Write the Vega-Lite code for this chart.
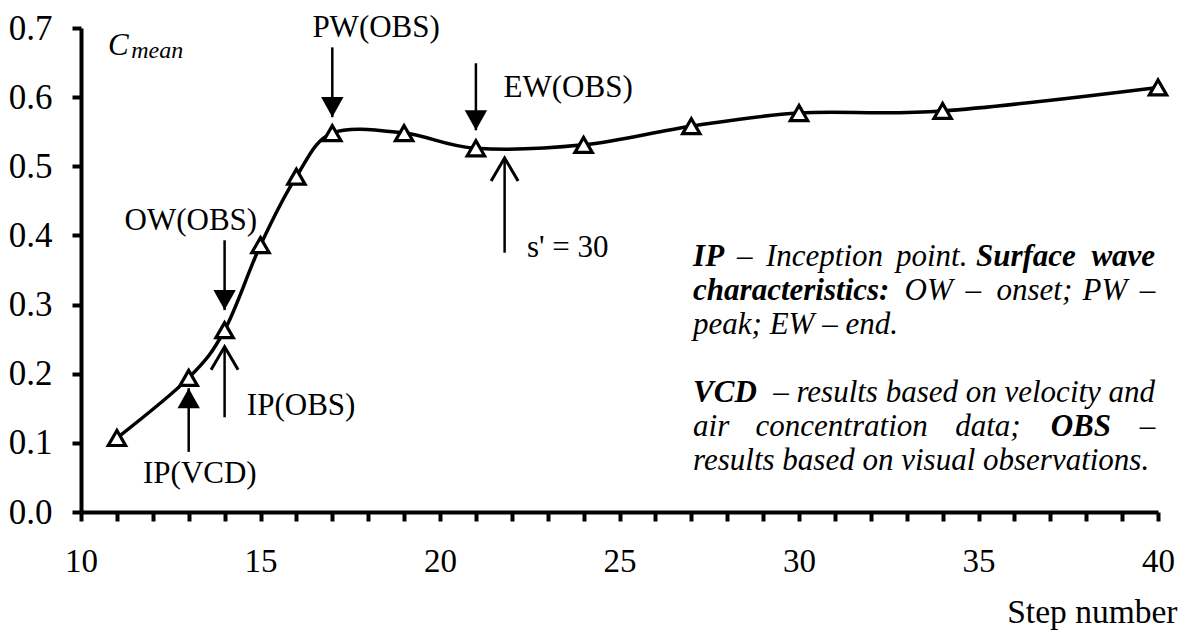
{
  "$schema": "https://vega.github.io/schema/vega-lite/v6.json",
  "width": 1077,
  "height": 484,
  "autosize": {"type": "none"},
  "padding": {"left": 81, "top": 28, "right": 30, "bottom": 120},
  "background": "white",
  "config": {
    "view": {"stroke": null},
    "font": "Liberation Serif",
    "text": {"font": "Liberation Serif", "color": "black"}
  },
  "datasets": {
    "cmean": [
      {"x": 11, "y": 0.107},
      {"x": 13, "y": 0.194},
      {"x": 14, "y": 0.263},
      {"x": 15, "y": 0.386},
      {"x": 16, "y": 0.485},
      {"x": 17, "y": 0.548},
      {"x": 19, "y": 0.548},
      {"x": 21, "y": 0.526},
      {"x": 24, "y": 0.531},
      {"x": 27, "y": 0.558},
      {"x": 30, "y": 0.577},
      {"x": 34, "y": 0.580},
      {"x": 40, "y": 0.614}
    ],
    "arrows": [
      {"name": "PW", "x": 17, "y": 0.571, "tail": 0.672, "head": "down"},
      {"name": "EW", "x": 21, "y": 0.552, "tail": 0.649, "head": "down"},
      {"name": "OW", "x": 14, "y": 0.292, "tail": 0.393, "head": "down"},
      {"name": "IP VCD", "x": 13, "y": 0.179, "tail": 0.087, "head": "up"},
      {"name": "IP OBS", "x": 14, "y": 0.239, "tail": 0.137, "head": "open"},
      {"name": "s'", "x": 21.8, "y": 0.512, "tail": 0.375, "head": "open"}
    ],
    "notes": [
      {"g": "ac", "text": "PW(OBS)", "x": 18.22, "y": 0.687},
      {"g": "ac", "text": "EW(OBS)", "x": 23.57, "y": 0.600},
      {"g": "ac", "text": "OW(OBS)", "x": 13.06, "y": 0.408},
      {"g": "ac", "text": "IP(VCD)", "x": 13.31, "y": 0.042},
      {"g": "al", "text": "s' = 30", "x": 22.42, "y": 0.369},
      {"g": "al", "text": "IP(OBS)", "x": 14.62, "y": 0.140},
      {"g": "bl", "text": "IP", "x": 27.05, "y": 0.356},
      {"g": "il", "text": "–", "x": 28.27, "y": 0.356},
      {"g": "il", "text": "Inception", "x": 29.08, "y": 0.356},
      {"g": "il", "text": "point.", "x": 32.70, "y": 0.356},
      {"g": "bl", "text": "Surface", "x": 34.93, "y": 0.356},
      {"g": "br", "text": "wave", "x": 39.92, "y": 0.356},
      {"g": "bl", "text": "characteristics:", "x": 27.05, "y": 0.307},
      {"g": "il", "text": "OW", "x": 32.94, "y": 0.307},
      {"g": "il", "text": "–", "x": 34.64, "y": 0.307},
      {"g": "il", "text": "onset;", "x": 35.50, "y": 0.307},
      {"g": "il", "text": "PW", "x": 37.90, "y": 0.307},
      {"g": "ir", "text": "–", "x": 39.92, "y": 0.307},
      {"g": "il", "text": "peak; EW – end.", "x": 27.05, "y": 0.257},
      {"g": "bl", "text": "VCD", "x": 27.05, "y": 0.159},
      {"g": "ir", "text": "– results based on velocity and", "x": 39.92, "y": 0.159},
      {"g": "il", "text": "air", "x": 27.05, "y": 0.110},
      {"g": "il", "text": "concentration", "x": 28.79, "y": 0.110},
      {"g": "il", "text": "data;", "x": 34.35, "y": 0.110},
      {"g": "bl", "text": "OBS", "x": 37.01, "y": 0.110},
      {"g": "ir", "text": "–", "x": 39.92, "y": 0.110},
      {"g": "il", "text": "results based on visual observations.", "x": 27.05, "y": 0.061},
      {"g": "C", "text": "C", "x": 10.75, "y": 0.661},
      {"g": "m", "text": "mean", "x": 11.40, "y": 0.657}
    ]
  },
  "encoding": {
    "x": {
      "field": "x",
      "type": "quantitative",
      "scale": {"domain": [10, 40], "nice": false, "zero": false},
      "axis": {
        "values": [10, 11, 12, 13, 14, 15, 16, 17, 18, 19, 20, 21, 22, 23, 24, 25, 26, 27, 28, 29, 30, 31, 32, 33, 34, 35, 36, 37, 38, 39, 40],
        "labelExpr": "datum.value % 5 === 0 ? datum.label : ''",
        "grid": false,
        "domainColor": "black",
        "domainWidth": 4,
        "tickColor": "black",
        "tickWidth": 4,
        "tickSize": 9,
        "labelFont": "Liberation Serif",
        "labelFontSize": 33,
        "labelColor": "black",
        "labelPadding": 24,
        "labelFlush": false,
        "labelOverlap": false,
        "title": "Step number",
        "titleFont": "Liberation Serif",
        "titleFontSize": 33.5,
        "titleFontWeight": "normal",
        "titleColor": "black",
        "titleAnchor": "end",
        "titleAlign": "right",
        "titleBaseline": "alphabetic",
        "titleX": 1096,
        "titleY": 110
      }
    },
    "y": {
      "field": "y",
      "type": "quantitative",
      "scale": {"domain": [0, 0.7], "nice": false},
      "axis": {
        "values": [0, 0.1, 0.2, 0.3, 0.4, 0.5, 0.6, 0.7],
        "format": ".1f",
        "grid": false,
        "domainColor": "black",
        "domainWidth": 4,
        "tickColor": "black",
        "tickWidth": 4,
        "tickSize": 9,
        "labelFont": "Liberation Serif",
        "labelFontSize": 35,
        "labelColor": "black",
        "labelPadding": 20,
        "labelFlush": false,
        "labelOverlap": false,
        "title": null
      }
    }
  },
  "layer": [
    {
      "data": {"name": "cmean"},
      "mark": {"type": "line", "interpolate": "cardinal", "color": "black", "strokeWidth": 3.5}
    },
    {
      "data": {"name": "cmean"},
      "mark": {"type": "point", "shape": "triangle-up", "size": 300, "filled": true, "fill": "white", "stroke": "black", "strokeWidth": 3.2, "opacity": 1}
    },
    {
      "data": {"name": "arrows"},
      "mark": {"type": "rule", "color": "black", "strokeWidth": 2.5},
      "encoding": {"y2": {"field": "tail"}}
    },
    {
      "data": {"name": "arrows"},
      "transform": [{"filter": "datum.head === 'down'"}],
      "mark": {"type": "point", "shape": "M-1,-1.8L1,-1.8L0,0Z", "size": 500, "filled": true, "color": "black", "opacity": 1, "strokeWidth": 0}
    },
    {
      "data": {"name": "arrows"},
      "transform": [{"filter": "datum.head === 'up'"}],
      "mark": {"type": "point", "shape": "M-1,1.8L1,1.8L0,0Z", "size": 500, "filled": true, "color": "black", "opacity": 1, "strokeWidth": 0}
    },
    {
      "data": {"name": "arrows"},
      "transform": [{"filter": "datum.head === 'open'"}],
      "mark": {"type": "point", "shape": "M-1,1.7L0,0L1,1.7", "size": 729, "filled": false, "color": "black", "opacity": 1, "strokeWidth": 3}
    },
    {
      "data": {"name": "notes"},
      "transform": [{"filter": "datum.g === 'ac'"}],
      "mark": {"type": "text", "align": "center", "baseline": "alphabetic", "fontSize": 31},
      "encoding": {"text": {"field": "text"}}
    },
    {
      "data": {"name": "notes"},
      "transform": [{"filter": "datum.g === 'al'"}],
      "mark": {"type": "text", "align": "left", "baseline": "alphabetic", "fontSize": 31},
      "encoding": {"text": {"field": "text"}}
    },
    {
      "data": {"name": "notes"},
      "transform": [{"filter": "datum.g === 'il'"}],
      "mark": {"type": "text", "align": "left", "baseline": "alphabetic", "fontSize": 31, "fontStyle": "italic"},
      "encoding": {"text": {"field": "text"}}
    },
    {
      "data": {"name": "notes"},
      "transform": [{"filter": "datum.g === 'ir'"}],
      "mark": {"type": "text", "align": "right", "baseline": "alphabetic", "fontSize": 31, "fontStyle": "italic"},
      "encoding": {"text": {"field": "text"}}
    },
    {
      "data": {"name": "notes"},
      "transform": [{"filter": "datum.g === 'bl'"}],
      "mark": {"type": "text", "align": "left", "baseline": "alphabetic", "fontSize": 31, "fontStyle": "italic", "fontWeight": "bold"},
      "encoding": {"text": {"field": "text"}}
    },
    {
      "data": {"name": "notes"},
      "transform": [{"filter": "datum.g === 'br'"}],
      "mark": {"type": "text", "align": "right", "baseline": "alphabetic", "fontSize": 31, "fontStyle": "italic", "fontWeight": "bold"},
      "encoding": {"text": {"field": "text"}}
    },
    {
      "data": {"name": "notes"},
      "transform": [{"filter": "datum.g === 'C'"}],
      "mark": {"type": "text", "align": "left", "baseline": "alphabetic", "fontSize": 31, "fontStyle": "italic"},
      "encoding": {"text": {"field": "text"}}
    },
    {
      "data": {"name": "notes"},
      "transform": [{"filter": "datum.g === 'm'"}],
      "mark": {"type": "text", "align": "left", "baseline": "alphabetic", "fontSize": 24, "fontStyle": "italic"},
      "encoding": {"text": {"field": "text"}}
    }
  ]
}
